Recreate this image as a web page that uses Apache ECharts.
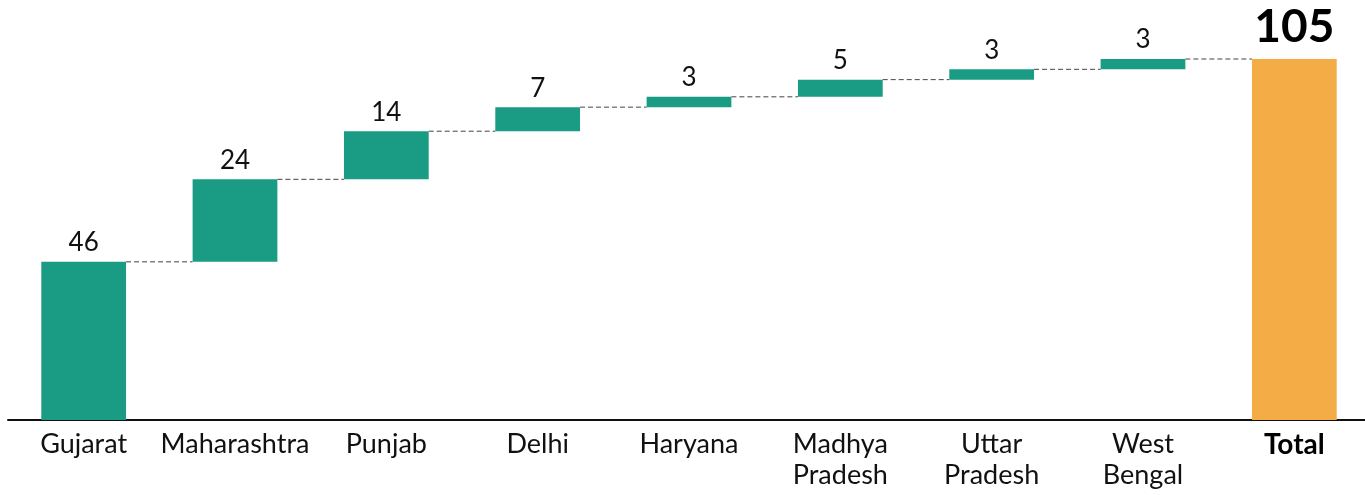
<!DOCTYPE html>
<html><head><meta charset="utf-8">
<script src="https://cdn.jsdelivr.net/npm/echarts@6/dist/echarts.min.js"></script>
<style>html,body{margin:0;padding:0;background:#fff;overflow:hidden}#c{width:1370px;height:495px}</style>
</head><body><div id="c"></div>
<script>
const categories = ['Gujarat','Maharashtra','Punjab','Delhi','Haryana','Madhya\nPradesh','Uttar\nPradesh','West\nBengal','Total'];
const increments = [46,24,14,7,3,5,3,3];
const totalValue = 105;

const bases = [];
let run = 0;
increments.forEach(v => { bases.push(run); run += v; });
const tops = bases.map((b,i)=>b+increments[i]);
const baseData = bases.concat([0]);
const visData = increments.map(v=>({value:v, itemStyle:{color:'#1a9b83'}}))
  .concat([{value:totalValue, itemStyle:{color:'#f4ac47'},
    label:{fontSize:46,fontWeight:'bold',color:'#000',distance:9}}]);
const connectorData = tops.map((t,i)=>[i,t]);

const FONT = 'Lato, "Open Sans", sans-serif';
const chart = echarts.init(document.getElementById('c'));
chart.setOption({
  animation:false,
  grid:{left:8,right:0,top:59,bottom:75},
  xAxis:{type:'category',data:categories,
    axisLine:{lineStyle:{color:'#111',width:2}},axisTick:{show:false},
    axisLabel:{interval:0,fontSize:27,fontFamily:FONT,color:'#111',lineHeight:31,margin:9,
      formatter:(v)=> v==='Total' ? '{b|Total}' : v,
      rich:{b:{fontWeight:'bold',fontSize:28,fontFamily:FONT,color:'#000'}}}},
  yAxis:{type:'value',min:0,max:105,show:false,splitLine:{show:false}},
  series:[
    {type:'bar',stack:'w',data:baseData,barWidth:'56%',itemStyle:{color:'transparent'},silent:true},
    {type:'bar',stack:'w',data:visData,barWidth:'56%',
      label:{show:true,position:'top',fontSize:26,fontFamily:FONT,color:'#111',distance:6}},
    {type:'custom',data:connectorData,z:1,
      renderItem:(params,api)=>{
        const i=api.value(0), t=api.value(1);
        const w=api.size([1,0])[0]*0.56;
        const p1=api.coord([i,t]), p2=api.coord([i+1,t]);
        return {type:'line',shape:{x1:p1[0]+w/2,y1:p1[1],x2:p2[0]-w/2,y2:p2[1]},
          style:{stroke:'#444',lineWidth:1,lineDash:[5,3]}};
      }}
  ]
});
</script></body></html>
